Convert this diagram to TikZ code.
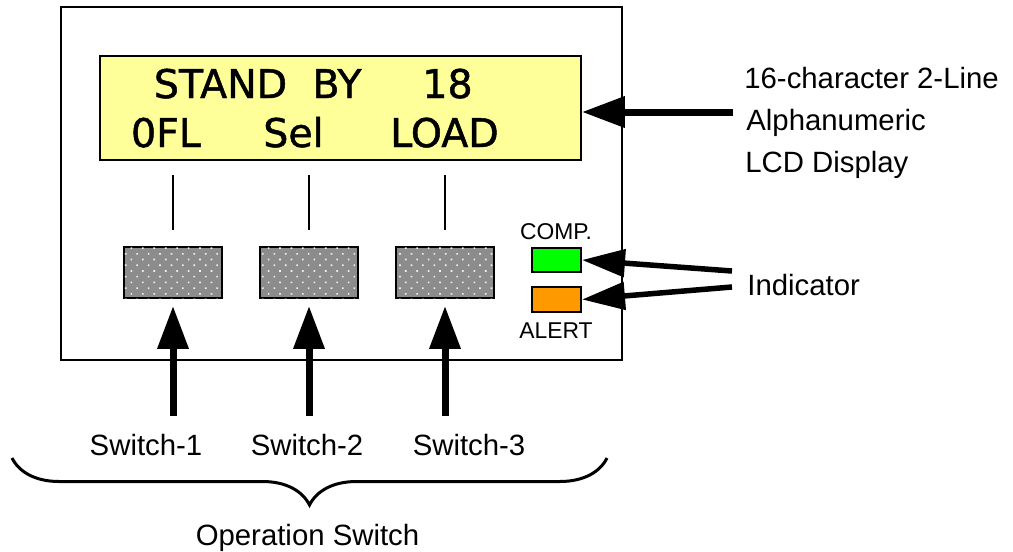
\documentclass[tikz,border=0pt]{standalone}
\usepackage{fontspec}
\setmainfont{Liberation Sans}
\newfontfamily\lcdfont[FakeBold=1.2]{DejaVu Sans}
\usetikzlibrary{arrows.meta, patterns.meta, decorations.pathreplacing, calc}
\definecolor{lcdyellow}{RGB}{255,255,153}
\definecolor{ledgreen}{RGB}{0,255,0}
\definecolor{ledorange}{RGB}{255,153,0}
\definecolor{keygray}{RGB}{140,140,140}

\begin{document}
\begin{tikzpicture}[x=0.02cm, y=-0.02cm,
  lbl/.style={font=\fontsize{16.7}{20}\selectfont, inner sep=0},
  smalllbl/.style={font=\fontsize{13}{16}\selectfont, inner sep=0, anchor=base},
  lcdword/.style={font=\lcdfont\fontsize{22.5}{27}\selectfont, inner sep=0, anchor=base},
  keybox/.style={draw, line width=0.04cm, fill=keygray, minimum width=1.96cm, minimum height=1.02cm, inner sep=0,
    postaction={pattern={Dots[distance=4.6pt, radius=0.65pt, angle=45]}, pattern color=white!90!keygray}},
  led/.style={draw, line width=0.04cm, minimum width=0.98cm, minimum height=0.49cm, inner sep=0},
  bigarrow/.style={-{Triangle[length=0.86cm, width=0.6cm]}, line width=0.14cm},
  ledarrow/.style={-{Triangle[length=0.86cm, width=0.54cm]}, line width=0.11cm},
  tickline/.style={line width=0.04cm}]
\useasboundingbox (0,0) rectangle (1013,551);
\draw[line width=0.04cm] (61,7) rectangle (622,360);

\node[draw, line width=0.04cm, fill=lcdyellow, minimum width=9.63cm, minimum height=2.08cm, inner sep=0] (lcd) at (340.25,108) {};
\node[lcdword] (stand) at (220.5,98) {STAND};
\node[lcdword] (by) at (337,98) {BY};
\node[lcdword] (count) at (447.5,98) {18};
\node[lcdword] (ofl) at (166,147) {0FL};
\node[lcdword] (sel) at (293.5,147) {Sel};
\node[lcdword] (load) at (444.5,147) {LOAD};

\foreach \i/\x/\lx in {1/173/146, 2/309/307, 3/445/469} {
  \node[keybox] (sw\i) at (\x,272.5) {};
  \draw[tickline] (sw\i.north) ++(0,-16) -- ++(0,-55);
  \coordinate (sw\i tail) at (\x,416);
  \draw[bigarrow] (sw\i tail) -- ($(sw\i.south)+(0,7)$);
  \node[lbl, anchor=base] (swlab\i) at (\lx,455) {Switch-\i};
}

\coordinate (lcdtail) at (733,112);
\draw[bigarrow] (lcdtail) -- (lcdtail -| lcd.east);
\node[lbl, anchor=base west] (lcdlab1) at (744,88) {16-character 2-Line};
\node[lbl, anchor=base west] (lcdlab2) at (746,130) {Alphanumeric};
\node[lbl, anchor=base west] (lcdlab3) at (745,172) {LCD Display};

\node[led, fill=ledgreen] (comp) at (556.5,260) {};
\node[led, fill=ledorange] (alert) at (556.5,299.5) {};
\node[smalllbl] (complab) at (556,239) {COMP.};
\node[smalllbl] (alertlab) at (556,338) {ALERT};
\node[lbl, anchor=base west] (indlab) at (747,295) {Indicator};
\coordinate (indtailA) at (732,271);
\coordinate (indtailB) at (732,287);
\draw[ledarrow] (indtailA) -- (comp.east);
\draw[ledarrow] (indtailB) -- (alert.east);

\coordinate (braceL) at (12,458);
\coordinate (braceR) at (607,458);
\draw[line width=0.06cm, decorate, decoration={brace, mirror, amplitude=0.94cm}] (braceL) -- (braceR);
\node[lbl, anchor=base] (oplab) at (307.5,545) {Operation Switch};
\end{tikzpicture}
\end{document}
